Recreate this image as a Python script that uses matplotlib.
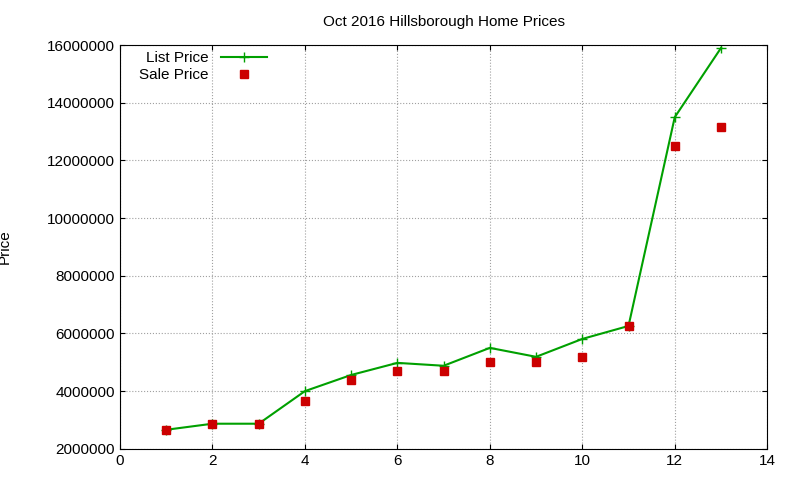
import matplotlib
matplotlib.use("Agg")
import matplotlib.pyplot as plt

months = [1, 2, 3, 4, 5, 6, 7, 8, 9, 10, 11, 12, 13]
list_price = [2660000, 2870000, 2870000, 4000000, 4560000, 4980000, 4880000,
              5500000, 5190000, 5810000, 6260000, 13500000, 15900000]
sale_price = [2660000, 2870000, 2870000, 3660000, 4390000, 4700000, 4700000,
              5010000, 5010000, 5190000, 6260000, 12500000, 13160000]

plt.rcParams["font.family"] = ["Liberation Sans", "DejaVu Sans"]
fig = plt.figure(figsize=(8, 4.8), dpi=100)
ax = fig.add_axes([0.15, 0.065, 0.809, 0.841])

ax.plot(months, list_price, color="#00a000", marker="+", markersize=7, lw=1.5, label="List Price")
ax.plot(months, sale_price, color="#cc0000", marker="s", markersize=6, ls="none", label="Sale Price")

ax.set_xlim(0, 14)
ax.set_ylim(2000000, 16000000)
ax.set_xticks(range(0, 15, 2))
ax.set_yticks(range(2000000, 16000001, 2000000))
ax.set_yticklabels([str(v) for v in range(2000000, 16000001, 2000000)])
ax.grid(True, color="#a0a0a0", ls=":", lw=0.8)
ax.tick_params(direction="in", labelsize=11, top=True, right=True)
ax.set_ylabel("Price", fontsize=11)
ax.yaxis.set_label_coords(-0.168, 0.5)
ax.set_title("Oct 2016 Hillsborough Home Prices", fontsize=11, pad=14)
leg = ax.legend(loc="upper left", frameon=False, fontsize=11, markerfirst=False,
                borderaxespad=0.0, handlelength=3, labelspacing=0.2,
                bbox_to_anchor=(0.02, 1.0))

fig.savefig("out.png", dpi=100)
